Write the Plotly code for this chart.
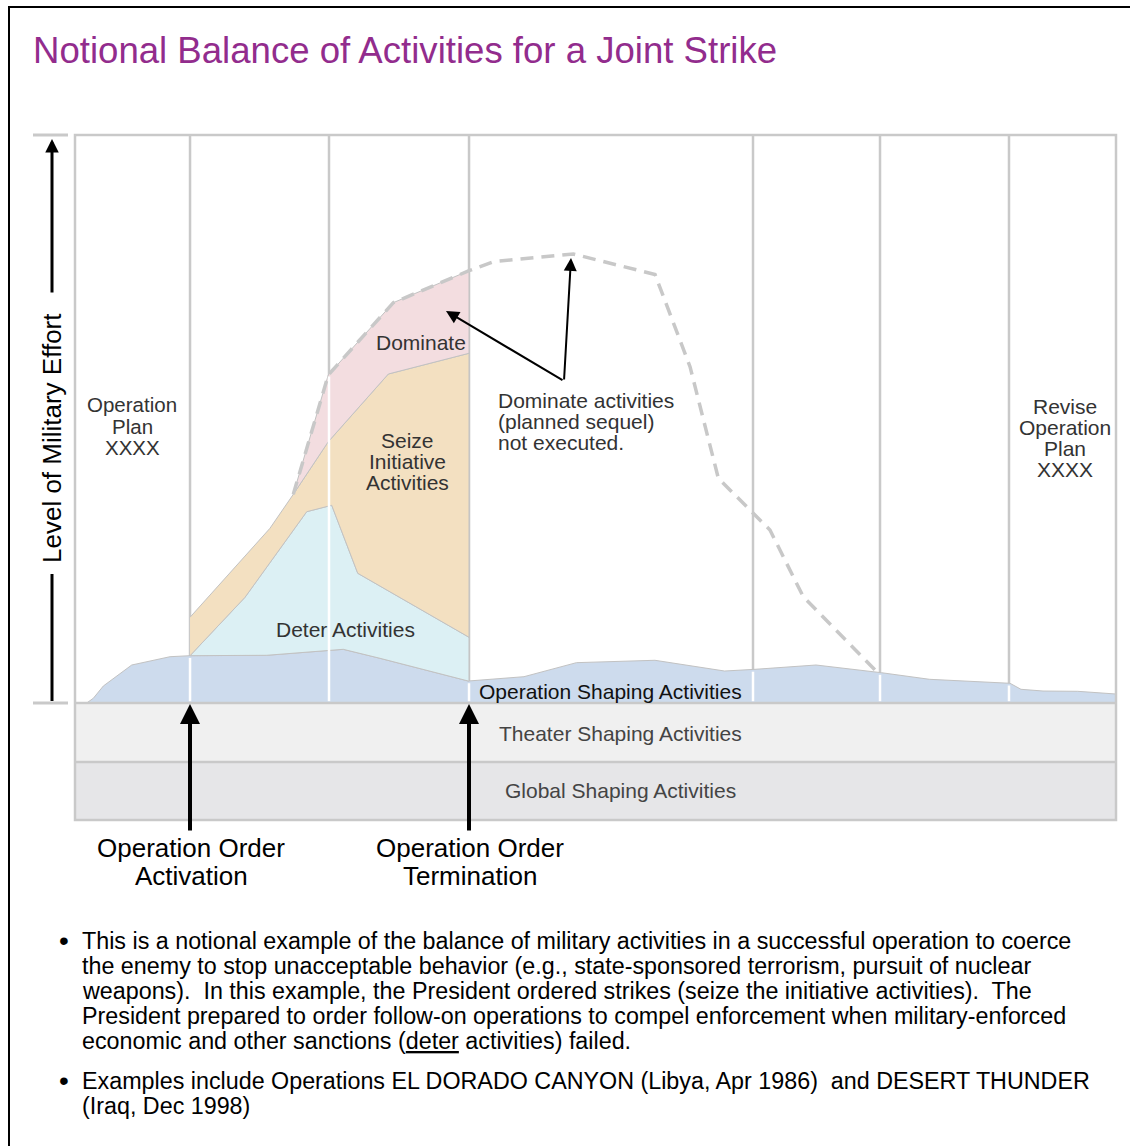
import numpy as np
import plotly.graph_objects as go

W, H = 1130, 1146
# chart box in page pixels (layout only)
BOX_L, BOX_R, BOX_T, BOX_B = 75, 1116, 135, 703
BAND1_B, BAND2_B = 762, 820

# ---------------- data (timeline %, effort %) ----------------
PHASE_BOUNDS = [11.05, 24.40, 37.85, 65.13, 77.33, 89.72]

SHAPING_T = [1.12, 1.76, 2.72, 5.45, 9.13, 11.05, 18.42, 25.77, 29.30, 37.78,
             43.13, 48.17, 55.71, 62.40, 65.32, 71.18, 77.48, 82.08, 89.82,
             90.87, 92.99, 96.32, 100.0]
SHAPING_E = [0.0, 0.83, 2.99, 6.69, 8.15, 8.33, 8.40, 9.45, 7.87, 3.87,
             4.63, 7.10, 7.52, 5.63, 5.93, 6.69, 5.33, 4.17, 3.47,
             2.41, 2.11, 2.06, 1.58]

DETER_T = [11.05, 16.33, 22.26, 24.66, 27.16, 37.85]
DETER_E = [8.33, 18.61, 33.68, 34.81, 22.84, 11.57]

SEIZE_T = [11.05, 18.73, 20.97, 24.33, 30.10, 37.85]
SEIZE_E = [15.09, 30.76, 36.74, 46.00, 57.92, 61.57]

DOMINATE_T = [20.97, 24.33, 30.58, 37.85]
DOMINATE_E = [36.74, 57.75, 70.48, 76.11]

SEQUEL_T = [37.85, 40.18, 47.87, 55.72, 59.08, 61.80, 66.76, 69.96, 77.01]
SEQUEL_E = [76.11, 77.69, 79.05, 75.44, 59.21, 39.56, 30.46, 18.71, 5.51]

BULLET1 = [
    "This is a notional example of the balance of military activities in a successful operation to coerce",
    "the enemy to stop unacceptable behavior (e.g., state-sponsored terrorism, pursuit of nuclear",
    "weapons).\u00a0 In this example, the President ordered strikes (seize the initiative activities).\u00a0 The",
    "President prepared to order follow-on operations to compel enforcement when military-enforced",
    "economic and other sanctions (<u>deter</u> activities) failed.",
]
BULLET2 = [
    "Examples include Operations EL DORADO CANYON (Libya, Apr 1986)\u00a0 and DESERT THUNDER",
    "(Iraq, Dec 1998)",
]

# ---------------- helpers ----------------
def X(px):
    return (px - BOX_L) / (BOX_R - BOX_L) * 100.0

def Y(py):
    return (BOX_B - py) / (BOX_B - BOX_T) * 100.0

def xp(px):
    return px / W

def yp(py):
    return 1 - py / H

def segment(T, E, t0, t1):
    T = np.asarray(T, float); E = np.asarray(E, float)
    inside = (T > t0) & (T < t1)
    ts = [t0] + list(T[inside]) + [t1]
    es = [np.interp(t0, T, E)] + list(E[inside]) + [np.interp(t1, T, E)]
    return ts, es

GRAY = "#c9c9c9"
OUTLINE = "#c2c2c2"
FONT = "Liberation Sans, Arial, Helvetica, sans-serif"

fig = go.Figure()

# Operation shaping area
fig.add_trace(go.Scatter(
    x=SHAPING_T + [100.0, SHAPING_T[0]], y=SHAPING_E + [0.0, 0.0],
    fill="toself", fillcolor="#cddbed", mode="lines",
    line=dict(color=OUTLINE, width=1), hoverinfo="skip", showlegend=False))

# Deter area
lt, le = segment(SHAPING_T, SHAPING_E, DETER_T[0], DETER_T[-1])
fig.add_trace(go.Scatter(
    x=DETER_T + lt[::-1], y=DETER_E + le[::-1],
    fill="toself", fillcolor="#dcf0f4", mode="lines",
    line=dict(color=OUTLINE, width=1), hoverinfo="skip", showlegend=False))

# Seize initiative area
fig.add_trace(go.Scatter(
    x=SEIZE_T + DETER_T[::-1], y=SEIZE_E + DETER_E[::-1],
    fill="toself", fillcolor="#f3e0c1", mode="lines",
    line=dict(color=OUTLINE, width=1), hoverinfo="skip", showlegend=False))

# Dominate area
lt, le = segment(SEIZE_T, SEIZE_E, DOMINATE_T[0], DOMINATE_T[-1])
fig.add_trace(go.Scatter(
    x=DOMINATE_T + lt[::-1], y=DOMINATE_E + le[::-1],
    fill="toself", fillcolor="#f3dde0", mode="lines",
    line=dict(color=OUTLINE, width=1), hoverinfo="skip", showlegend=False))

# white phase lines across filled areas
wx, wy = [], []
layers = [(SHAPING_T, SHAPING_E), (DETER_T, DETER_E), (SEIZE_T, SEIZE_E), (DOMINATE_T, DOMINATE_E)]
for b in PHASE_BOUNDS:
    top = float(np.interp(b, SHAPING_T, SHAPING_E))
    for T, E in layers[1:]:
        if T[0] < b < T[-1]:
            top = max(top, float(np.interp(b, T, E)))
    wx += [b, b, None]
    wy += [0.3, top - 0.4, None]
fig.add_trace(go.Scatter(x=wx, y=wy, mode="lines", line=dict(color="white", width=2.5),
                         hoverinfo="skip", showlegend=False))

# dashed dominate / planned sequel outline
fig.add_trace(go.Scatter(
    x=DOMINATE_T + SEQUEL_T[1:], y=DOMINATE_E + SEQUEL_E[1:], mode="lines",
    line=dict(color="#c8c8c8", width=3.5, dash="13px,8px"),
    hoverinfo="skip", showlegend=False))

shapes = []
# outer frame
shapes.append(dict(type="rect", xref="paper", yref="paper", x0=xp(9), x1=xp(1140), y0=yp(1160), y1=yp(7),
                   line=dict(color="black", width=2), layer="below"))
# bands
shapes.append(dict(type="rect", xref="x", yref="y", x0=0, x1=100, y0=Y(BAND1_B), y1=0,
                   fillcolor="#f0f0f0", line=dict(width=0), layer="below"))
shapes.append(dict(type="rect", xref="x", yref="y", x0=0, x1=100, y0=Y(BAND2_B), y1=Y(BAND1_B),
                   fillcolor="#e6e6e8", line=dict(width=0), layer="below"))
# phase dividers
for b in PHASE_BOUNDS:
    shapes.append(dict(type="line", xref="x", yref="y", x0=b, x1=b, y0=0, y1=100,
                       line=dict(color=GRAY, width=2.5), layer="below"))
# band separators
for yy in [0, Y(BAND1_B)]:
    shapes.append(dict(type="line", xref="x", yref="y", x0=0, x1=100, y0=yy, y1=yy,
                       line=dict(color=GRAY, width=2.5), layer="above"))
# chart box
shapes.append(dict(type="rect", xref="x", yref="y", x0=0, x1=100, y0=Y(BAND2_B), y1=100,
                   line=dict(color=GRAY, width=2.5), layer="above"))
# left ticks
for py in [BOX_T, BOX_B]:
    shapes.append(dict(type="line", xref="paper", yref="paper", x0=xp(33), x1=xp(68), y0=yp(py), y1=yp(py),
                       line=dict(color=GRAY, width=3)))
# lower part of the y-axis arrow line
shapes.append(dict(type="line", xref="paper", yref="paper", x0=xp(52), x1=xp(52), y0=yp(701), y1=yp(574),
                   line=dict(color="black", width=3)))

ann = []

def txt(s, px, py, size, color="#333333", xanchor="center"):
    ann.append(dict(text=s, x=xp(px), y=yp(py), xref="paper", yref="paper", showarrow=False,
                    xanchor=xanchor, yanchor="middle", font=dict(family=FONT, size=size, color=color)))

def arrow(tail, tip, width, size):
    ann.append(dict(text="", x=X(tip[0]), y=Y(tip[1]), ax=X(tail[0]), ay=Y(tail[1]),
                    xref="x", yref="y", axref="x", ayref="y", showarrow=True,
                    arrowhead=2, arrowsize=size, arrowwidth=width, arrowcolor="black", standoff=0))

# y-axis arrow (upper part) + label
arrow((52, 294), (52, 139), 3, 0.9)
ann.append(dict(text="Level of Military Effort", x=xp(52), y=yp(438), xref="paper", yref="paper",
                xanchor="center", yanchor="middle",
                showarrow=False, textangle=-90,
                font=dict(family=FONT, size=26, color="black")))

# title
txt("Notional Balance of Activities for a Joint Strike", 31, 50, 36.6, "#922c8d", "left")

# area labels
LFS = 21
for i, s in enumerate(["Operation", "Plan", "XXXX"]):
    txt(s, 132, 404.5 + 21.6 * i, 20.5)
txt("Dominate", 421, 343, LFS)
for i, s in enumerate(["Seize", "Initiative", "Activities"]):
    txt(s, 407, 440 + 21 * i, LFS)
txt("Deter Activities", 345, 629, LFS)
for i, s in enumerate(["Dominate activities", "(planned sequel)", "not executed."]):
    txt(s, 496, 400 + 21.5 * i, LFS, xanchor="left")
for i, s in enumerate(["Revise", "Operation", "Plan", "XXXX"]):
    txt(s, 1065, 406.5 + 21 * i, LFS)
txt("Operation Shaping Activities", 477, 691, LFS, "#111111", "left")
txt("Theater Shaping Activities", 620, 733, LFS, "#444444")
txt("Global Shaping Activities", 620, 790, LFS, "#444444")

# callout arrows
arrow((564, 381), (446, 311), 2, 1.3)
arrow((564, 381), (571, 258), 2, 1.3)

# operation order arrows + labels
for cx, word in [(190, "Activation"), (469, "Termination")]:
    arrow((cx, 832), (cx, 704), 4, 1.0)
    txt("Operation Order", cx + 1, 848, 26, "black")
    txt(word, cx + 1, 876, 26, "black")

# bullets
BFS = 23.3
for i, s in enumerate(BULLET1):
    txt(s, 80, 941 + 25 * i, BFS, "black", "left")
txt("\u2022", 64, 940, 28, "black")
for i, s in enumerate(BULLET2):
    txt(s, 80, 1081 + 24.5 * i, BFS, "black", "left")
txt("\u2022", 64, 1080, 28, "black")

fig.update_layout(
    width=W, height=H, margin=dict(l=0, r=0, t=0, b=0),
    paper_bgcolor="white", plot_bgcolor="white",
    xaxis=dict(range=[X(0), X(W)], visible=False, fixedrange=True),
    yaxis=dict(range=[Y(H), Y(0)], visible=False, fixedrange=True),
    shapes=shapes, annotations=ann, showlegend=False,
)

fig.write_html("out.html", config={"displayModeBar": False},
               post_script="document.body.style.margin='0';document.body.style.overflow='hidden';")
